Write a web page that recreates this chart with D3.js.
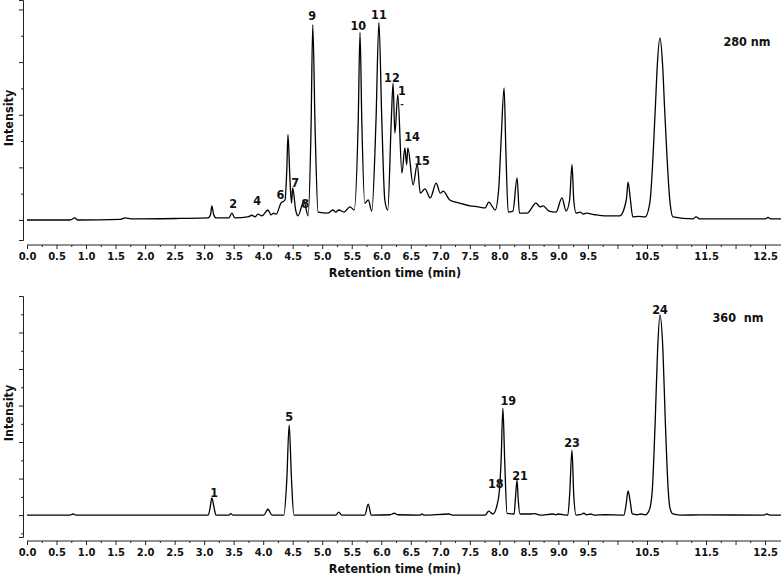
<html>
<script src='https://d3js.org/d3.v7.min.js'></script>
<style>
body {margin: 0; background: white;}
text {font-family: 'DejaVu Sans Condensed', 'DejaVu Sans', sans-serif; font-weight: bold; fill: #111;}
.trace {fill: none; stroke: #000; stroke-width: 1.3;}
.axis path, .axis line {stroke: #222;}
</style>
<body onload='init()'>
<svg width=781 height=578></svg>
<script>
// 280 nm trace (time in min, intensity in axis units)
const topTime = [0, 0.73, 0.81, 0.86, 1.58, 1.66, 1.78, 2.59, 3.07, 3.11, 3.13, 3.16, 3.20, 3.42, 3.47, 3.52,
  3.74, 3.81, 3.86, 3.91, 3.98, 4.08, 4.13, 4.18, 4.22, 4.30, 4.37, 4.40, 4.42, 4.45, 4.48, 4.50, 4.55, 4.59,
  4.69, 4.76, 4.81, 4.84, 4.88, 4.93, 5.10, 5.18, 5.23, 5.28, 5.37, 5.47, 5.54, 5.61, 5.64, 5.67, 5.72, 5.78,
  5.84, 5.91, 5.96, 6.01, 6.06, 6.11, 6.17, 6.20, 6.23, 6.28, 6.35, 6.40, 6.43, 6.45, 6.54, 6.61, 6.66, 6.74,
  6.83, 6.93, 7.00, 7.05, 7.16, 7.33, 7.50, 7.64, 7.76, 7.82, 7.93, 7.99, 8.03, 8.08, 8.11, 8.15, 8.23, 8.30,
  8.34, 8.47, 8.62, 8.69, 8.74, 8.84, 8.96, 9.06, 9.13, 9.19, 9.23, 9.26, 9.30, 9.37, 9.42, 9.47, 9.62, 9.79,
  10.04, 10.15, 10.18, 10.22, 10.26, 10.35, 10.47, 10.55, 10.64, 10.675, 10.72, 10.765, 10.80, 10.89, 10.94,
  11.28, 11.33, 11.40, 12.50, 12.55, 12.60, 12.77]
const topIntensity = [0, 0, 0.04, 0, 0.01, 0.04, 0.02, 0.03, 0.04, 0.11, 0.27, 0.11, 0.04, 0.04, 0.13, 0.04,
  0.06, 0.09, 0.06, 0.11, 0.08, 0.19, 0.10, 0.13, 0.11, 0.32, 0.38, 0.95, 1.62, 0.86, 0.32, 0.61, 0.19, 0.08,
  0.36, 0.08, 1.71, 3.71, 1.71, 0.15, 0.13, 0.19, 0.15, 0.19, 0.15, 0.25, 0.19, 1.90, 3.56, 1.90, 0.32, 0.38,
  0.17, 1.86, 3.76, 1.86, 0.38, 0.19, 1.90, 2.60, 1.65, 2.38, 0.89, 1.37, 1.05, 1.37, 0.67, 1.06, 0.51, 0.59,
  0.42, 0.70, 0.51, 0.55, 0.38, 0.32, 0.27, 0.25, 0.23, 0.34, 0.19, 0.61, 1.52, 2.51, 1.33, 0.15, 0.17, 0.80,
  0.13, 0.13, 0.32, 0.25, 0.27, 0.17, 0.15, 0.42, 0.17, 0.38, 1.05, 0.38, 0.13, 0.15, 0.11, 0.13, 0.10, 0.08,
  0.08, 0.38, 0.72, 0.38, 0.06, 0.07, 0.06, 0.34, 2.09, 2.94, 3.46, 2.94, 2.09, 0.34, 0.06,
  0.02, 0.06, 0.02, 0.02, 0.05, 0.02, 0.02]

// 360 nm trace
const bottomTime = [0, 0.73, 0.78, 0.83, 3.07, 3.10, 3.13, 3.17, 3.20, 3.42, 3.45, 3.49, 4.01, 4.08, 4.15,
  4.35, 4.40, 4.44, 4.48, 4.52, 5.23, 5.28, 5.33, 5.72, 5.78, 5.83, 6.15, 6.22, 6.28, 6.66, 6.69, 6.72, 7.15,
  7.20, 7.76, 7.82, 7.89, 7.96, 8.00, 8.03, 8.06, 8.09, 8.13, 8.25, 8.27, 8.30, 8.32, 8.35, 8.52, 8.60, 8.69,
  8.91, 8.96, 8.99, 9.16, 9.19, 9.23, 9.26, 9.30, 9.37, 9.43, 9.48, 9.55, 9.60, 9.79, 10.11, 10.15, 10.18,
  10.22, 10.25, 10.33, 10.40, 10.47, 10.50, 10.55, 10.59, 10.64, 10.68, 10.72, 10.77, 10.81, 10.86, 10.89,
  10.94, 11.06, 11.40, 12.48, 12.53, 12.58, 12.77]
const bottomIntensity = [0, 0, 0.03, 0, 0, 0.19, 0.47, 0.19, 0, 0, 0.04, 0, 0, 0.16, 0,
  0, 0.96, 2.47, 0.96, 0, 0, 0.08, 0, 0, 0.30, 0, 0.01, 0.05, 0.01, 0, 0.03, 0, 0.03,
  0, 0, 0.11, 0.03, 0.27, 0.66, 1.51, 2.93, 1.51, 0.05, 0.03, 0.41, 0.96, 0.41, 0.03, 0.03, 0.04, 0,
  0.03, 0.01, 0.03, 0, 0.55, 1.78, 0.55, 0, 0.01, 0.05, 0.01, 0.03, 0, 0.01, 0, 0.33, 0.66,
  0.33, 0.03, 0.01, 0.03, 0.01, 0.03, 0.19, 0.68, 2.60, 4.52, 5.48, 4.52, 2.60, 0.68, 0.19,
  0.03, 0, 0.005, 0, 0.03, 0, 0]

// peak labels
const topLabels = ["2", "4", "6", "7", "8", "9", "10", "11", "12", "1", "-", "14", "15"]
const topLabelTime = [3.49, 3.90, 4.29, 4.54, 4.71, 4.83, 5.61, 5.96, 6.18, 6.35, 6.35, 6.52, 6.69]
const topLabelIntensity = [0.30, 0.36, 0.46, 0.70, 0.30, 3.86, 3.67, 3.88, 2.68, 2.45, 2.20, 1.56, 1.12]
const bottomLabels = ["1", "5", "18", "19", "21", "23", "24"]
const bottomLabelTime = [3.17, 4.44, 7.94, 8.15, 8.35, 9.23, 10.72]
const bottomLabelIntensity = [0.58, 2.66, 0.85, 3.12, 1.07, 1.95, 5.59]

// axis ticks
const xTicks = [0.0, 0.5, 1.0, 1.5, 2.0, 2.5, 3.0, 3.5, 4.0, 4.5, 5.0, 5.5, 6.0, 6.5, 7.0, 7.5, 8.0, 8.5,
  9.0, 9.5, 10.0, 10.5, 11.0, 11.5, 12.0, 12.5]
const xTickLabels = ["0.0", "0.5", "1.0", "1.5", "2.0", "2.5", "3.0", "3.5", "4.0", "4.5", "5.0", "5.5", "6.0",
  "6.5", "7.0", "7.5", "8.0", "8.5", "9.0", "9.5", "", "10.5", "", "11.5", "", "12.5"]
const topYTicks = [0, 1, 2, 3, 4]
const bottomYTicks = [0, 1, 2, 3, 4, 5, 6]

function init() {
    const svg = d3.select("svg")
    const xScale = d3.scaleLinear().domain([0, 12.77]).range([27, 781])

    function panel(p) {
        const yScale = d3.scaleLinear().domain(p.yDomain).range([p.yBottom, p.yTop])
        const g = svg.append("g")

        // Y axis (major + minor ticks, no labels)
        g.append("g").attr("class", "axis")
            .attr("transform", "translate(23,0)")
            .call(d3.axisLeft(yScale).tickValues(p.yTicks).tickSize(4).tickFormat(""))
        g.append("g").attr("class", "axis")
            .attr("transform", "translate(23,0)")
            .call(d3.axisLeft(yScale).tickValues(p.yMinor).tickSize(2).tickFormat(""))
            .select(".domain").remove()

        // X axis
        const xa = g.append("g").attr("class", "axis")
            .attr("transform", `translate(0,${p.xAxisY})`)
            .call(d3.axisBottom(xScale).tickValues(xTicks).tickSize(4).tickPadding(4)
                .tickFormat((d, i) => xTickLabels[i]))
        xa.selectAll("text").style("font-size", "10px").style("fill", "#111")
            .style("font-family", "'DejaVu Sans', sans-serif").style("font-weight", "bold")
        xa.select(".domain").attr("d", `M27,0H781`)
        g.append("g").attr("class", "axis")
            .attr("transform", `translate(0,${p.xAxisY})`)
            .call(d3.axisBottom(xScale).tickValues(xTicks.slice(0, -1).map(t => t + 0.25)).tickSize(2).tickFormat(""))
            .select(".domain").remove()

        g.append("text").attr("x", 395).attr("y", p.xAxisY + 28)
            .attr("text-anchor", "middle").attr("dominant-baseline", "middle")
            .style("font-size", "12.5px").text("Retention time (min)")
        g.append("text")
            .attr("transform", `translate(9,${p.yLabelY}) rotate(-90)`)
            .attr("text-anchor", "middle").attr("dominant-baseline", "middle")
            .style("font-size", "12.5px").text("Intensity")

        // trace
        const data = p.time.map((t, i) => [t, p.intensity[i]])
        g.append("path").datum(data).attr("class", "trace")
            .attr("d", d3.line().x(d => xScale(d[0])).y(d => yScale(d[1])).curve(d3.curveMonotoneX))

        // peak labels
        g.selectAll(".peak").data(p.labels).enter().append("text")
            .attr("x", (d, i) => xScale(p.labelTime[i]))
            .attr("y", (d, i) => yScale(p.labelIntensity[i]))
            .attr("text-anchor", "middle").attr("dominant-baseline", "middle")
            .style("font-size", (d) => d == "-" ? "9px" : "12.5px")
            .text(d => d)

        g.append("text").attr("x", p.nmX).attr("y", p.nmY)
            .attr("text-anchor", "middle").attr("dominant-baseline", "middle")
            .style("font-size", "12.5px").style("white-space", "pre").text(p.nm)
    }

    panel({
        time: topTime, intensity: topIntensity,
        labels: topLabels, labelTime: topLabelTime, labelIntensity: topLabelIntensity,
        yDomain: [-0.38, 4.18], yTop: 0, yBottom: 240, xAxisY: 245, yLabelY: 118,
        yTicks: topYTicks, yMinor: [0.5, 1.5, 2.5, 3.5],
        nm: "280 nm", nmX: 747, nmY: 42
    })
    panel({
        time: bottomTime, intensity: bottomIntensity,
        labels: bottomLabels, labelTime: bottomLabelTime, labelIntensity: bottomLabelIntensity,
        yDomain: [-0.6, 6.0], yTop: 296, yBottom: 537, xAxisY: 541, yLabelY: 413,
        yTicks: bottomYTicks, yMinor: [-0.5, 0.5, 1.5, 2.5, 3.5, 4.5, 5.5],
        nm: "360  nm", nmX: 738, nmY: 318
    })
}
</script>
</body>
</html>
